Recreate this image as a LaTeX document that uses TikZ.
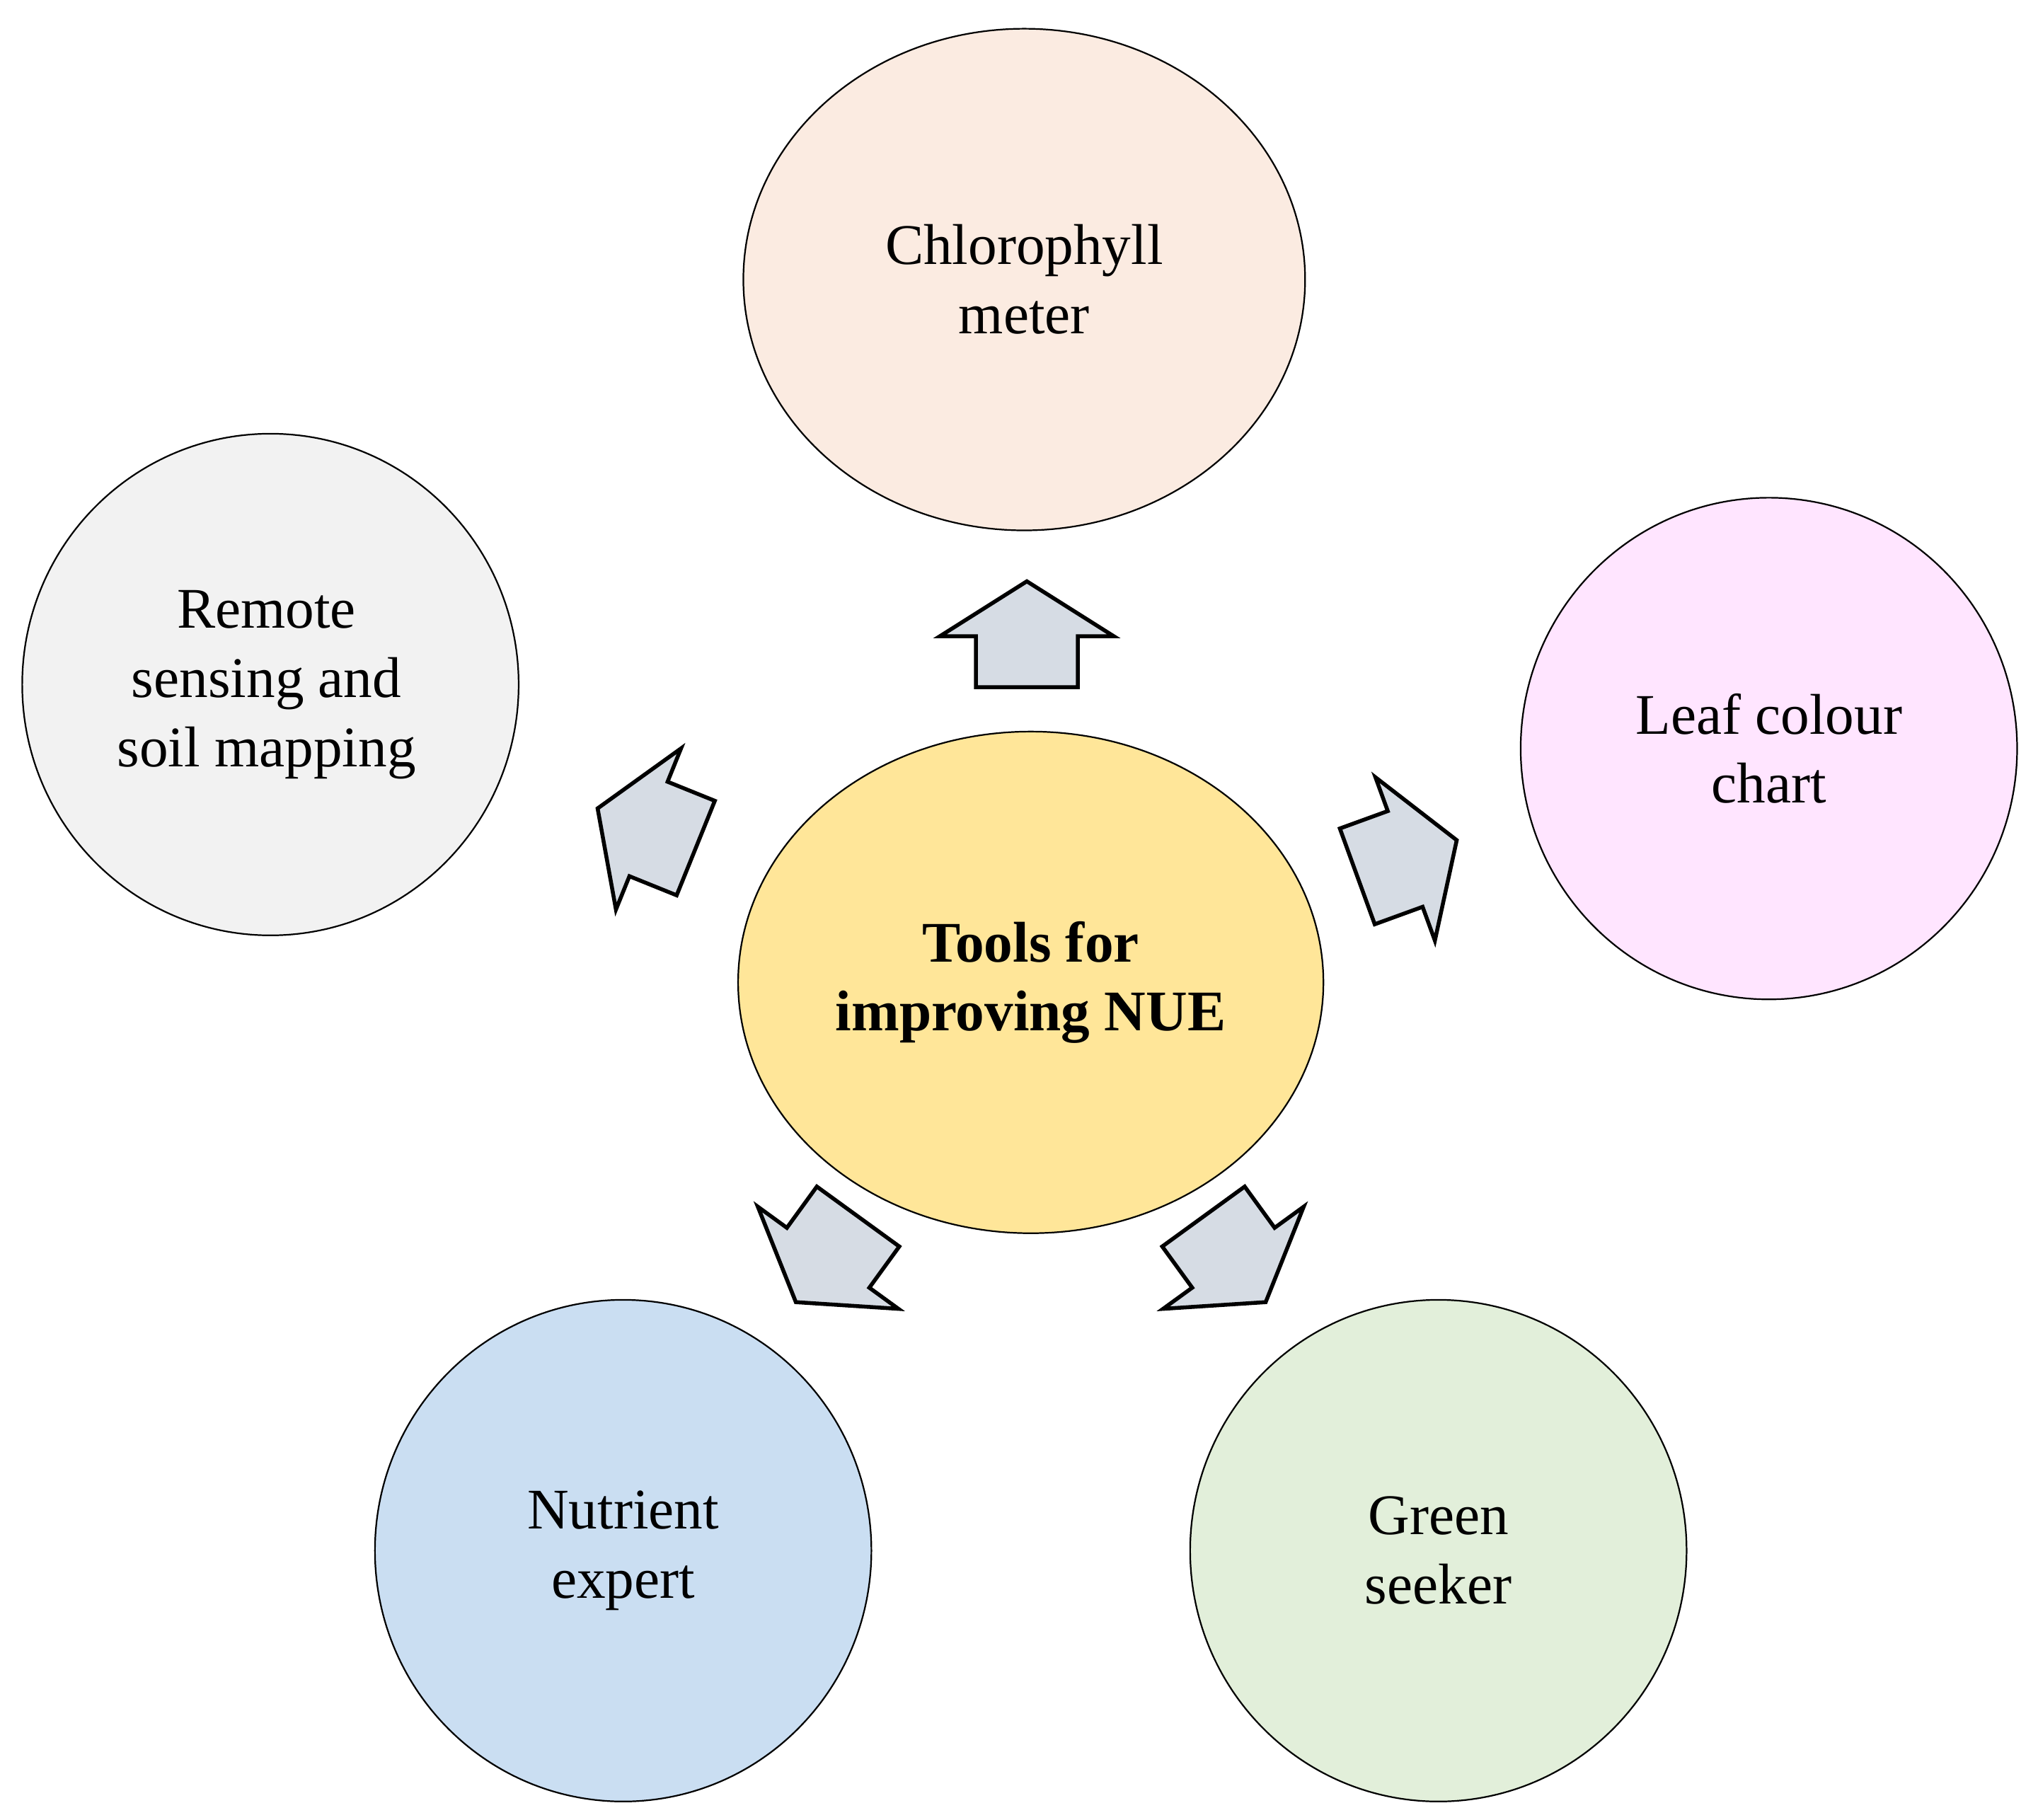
\documentclass[tikz,border=0pt]{standalone}
\usepackage{fontspec}
\setmainfont{Liberation Serif}
\begin{document}
\begin{tikzpicture}[x=1pt,y=1pt,
  circ/.style={draw=black,line width=1.2pt,align=center,font=\fontsize{44}{53}\selectfont},
  blk/.style={draw=black,line width=3pt,fill=arrowc,line join=miter}]
\definecolor{arrowc}{HTML}{D6DCE4}
\useasboundingbox (0,0) rectangle (1560,1393);
\newcommand{\blockarrow}[3]{%
  \begin{scope}[shift={(#1,#2)},rotate=#3]
  \draw[blk] (-40.5,-39) -- (-1.5,-39) -- (-1.5,-66.5) -- (40.5,0) -- (-1.5,66.5) -- (-1.5,39) -- (-40.5,39) -- cycle;
  \end{scope}}
\draw[circ,fill={rgb,255:red,251;green,235;blue,225}] (784,1179) ellipse [x radius=215,y radius=192];
\node[circ,draw=none] (chl) at (784,1179) {Chlorophyll\\meter};
\draw[circ,fill={rgb,255:red,242;green,242;blue,242}] (207,869) ellipse [x radius=190,y radius=192];
\node[circ,draw=none] (rem) at (204,869) {Remote\\sensing and\\soil mapping};
\draw[circ,fill={rgb,255:red,255;green,229;blue,255}] (1354,820) ellipse [x radius=190,y radius=192];
\node[circ,draw=none] (leaf) at (1354,820) {Leaf colour\\chart};
\draw[circ,fill={rgb,255:red,255;green,230;blue,153}] (789,641) ellipse [x radius=224,y radius=192];
\node[circ,draw=none,font=\bfseries\fontsize{44}{53}\selectfont] (nue) at (789,641) {Tools for\\improving NUE};
\draw[circ,fill={rgb,255:red,202;green,222;blue,242}] (477,206) ellipse [x radius=190,y radius=192];
\node[circ,draw=none] (nut) at (477,206) {Nutrient\\expert};
\draw[circ,fill={rgb,255:red,226;green,239;blue,218}] (1101,206) ellipse [x radius=190,y radius=192];
\node[circ,draw=none] (grn) at (1101,206) {Green\\seeker};
\blockarrow{786}{907.5}{90}
\blockarrow{495}{759}{158}
\blockarrow{1077}{736}{20}
\blockarrow{633}{429}{234}
\blockarrow{945}{429}{306}
\end{tikzpicture}
\end{document}
